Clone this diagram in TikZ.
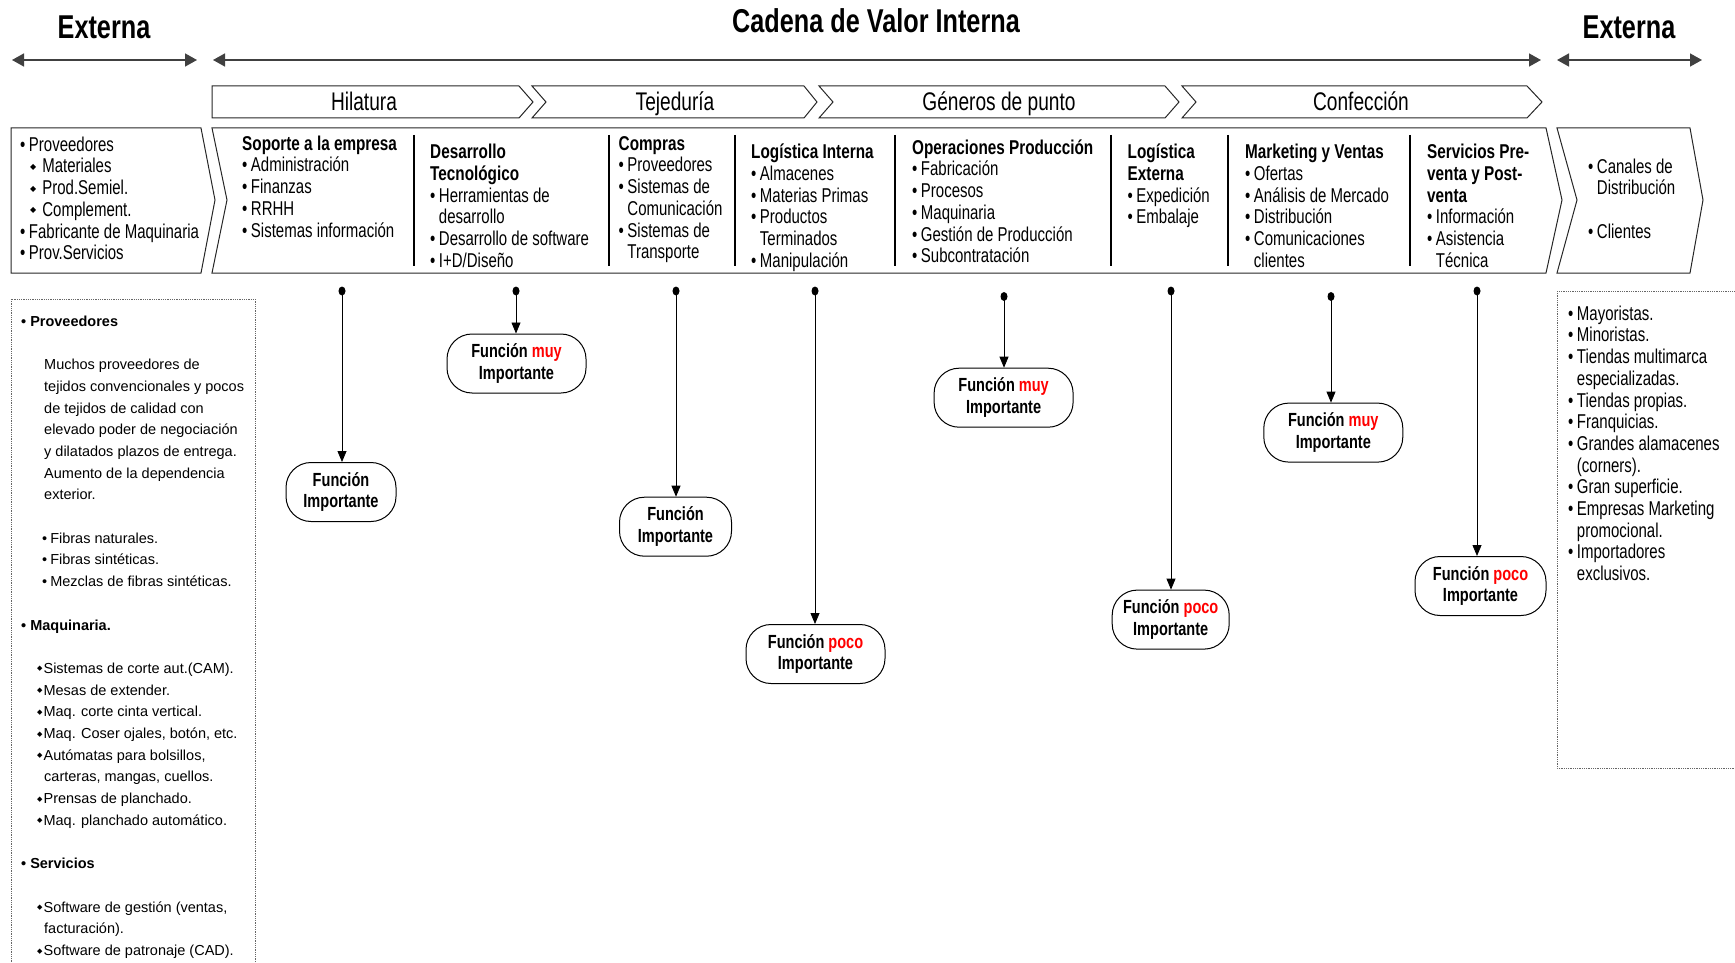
\documentclass[tikz,border=0pt]{standalone}
\usepackage{fontspec}
\setmainfont{Liberation Sans}
\newfontfamily\cond[FakeStretch=0.75]{Liberation Sans}
\newfontfamily\condb[FakeStretch=0.765]{Liberation Sans}
\newfontfamily\dejavu{DejaVu Sans}
\usetikzlibrary{arrows.meta,shapes.geometric}
\newcommand\bodyf{\cond\fontsize{20}{21.7}\selectfont\lineskiplimit=-50pt\relax}
\newcommand\titlef{\condb\bfseries\fontsize{33}{36}\selectfont}
\newcommand\chevf{\cond\fontsize{25.5}{28}\selectfont}
\newcommand\nodef{\condb\bfseries\fontsize{19}{21.7}\selectfont\lineskiplimit=-50pt\relax}
\newcommand\leftf{\fontsize{14.5}{21.7}\selectfont\lineskiplimit=-50pt\relax}
\newcommand\hd[1]{{\condb\bfseries #1}}
\newcommand\bl{\textbullet\hspace{3.5pt}}
\newcommand\ind{\hphantom{\bl}}
\newcommand\diam{\raisebox{3.5pt}{\dejavu\fontsize{8}{8}\selectfont ◆}}
\newcommand\diams{\raisebox{2.5pt}{\dejavu\fontsize{7}{7}\selectfont ◆}}
\newcommand\st{\rule{0pt}{16pt}}
\newcommand\sts{\rule{0pt}{12pt}}
\begin{document}
\begin{tikzpicture}[x=1pt,y=-1pt,
  outl/.style={draw=black!85,line width=1pt},
  topar/.style={draw=black!75,line width=1.6pt,{Triangle[length=12pt,width=13pt]}-{Triangle[length=12pt,width=13pt]}},
  funar/.style={draw=black,line width=0.8pt,-{Triangle[length=11pt,width=9pt]}},
  divline/.style={draw=black,line width=1.6pt},
  dotbox/.style={draw=black!60,densely dotted,line width=0.8pt},
  col/.style={anchor=north west,inner sep=0pt,align=left,font=\bodyf},
  titl/.style={anchor=base,inner sep=0pt,font=\titlef},
  chevlbl/.style={anchor=base,inner sep=0pt,font=\chevf},
  fun/.style={draw=black,line width=1pt,rounded corners=25pt,align=center,font=\nodef,inner sep=0pt,minimum height=59pt,fill=white},
  dotn/.style={ellipse,fill=black,inner sep=0pt,minimum width=7pt,minimum height=9pt}
]
\useasboundingbox (0,0) rectangle (1735,963);

% titles
\node[titl] (ext1) at (104,39) {Externa};
\node[titl] (cad) at (876,33) {Cadena de Valor Interna};
\node[titl] (ext2) at (1629,39) {Externa};

% top arrows
\coordinate (a1) at (12,60); \coordinate (a2) at (197,60);
\coordinate (b1) at (213,60); \coordinate (b2) at (1541,60);
\coordinate (c1) at (1557,60); \coordinate (c2) at (1702,60);
\draw[topar] (a1) -- (a2);
\draw[topar] (b1) -- (b2);
\draw[topar] (c1) -- (c2);

% chevrons
\draw[outl] (212,86) -- (519,86) -- (533,102) -- (519,118) -- (212,118) -- cycle;
\draw[outl] (532,86) -- (804,86) -- (817,102) -- (804,118) -- (532,118) -- (546,102) -- cycle;
\draw[outl] (819,86) -- (1165,86) -- (1179,102) -- (1165,118) -- (819,118) -- (833,102) -- cycle;
\draw[outl] (1182,86) -- (1527,86) -- (1542,102) -- (1527,118) -- (1182,118) -- (1196,102) -- cycle;
\node[chevlbl] (hil) at (364,110.5) {Hilatura};
\node[chevlbl] (tej) at (675,110.5) {Tejeduría};
\node[chevlbl] (gen) at (999,110.5) {Géneros de punto};
\node[chevlbl] (con) at (1361,110.5) {Confección};

% value chain boxes
\draw[outl] (11,128) -- (201,128) -- (215,200) -- (201,273) -- (11,273) -- cycle;
\draw[outl] (212,128) -- (1546,128) -- (1562,200) -- (1546,273) -- (212,273) -- (227,200) -- cycle;
\draw[outl] (1557,128) -- (1690,128) -- (1703,200) -- (1690,273) -- (1557,273) -- (1577,200) -- cycle;

% dividers
\foreach \xx in {414,609,735,895,1111,1228,1410}
  \draw[divline] (\xx,135) -- (\xx,266);

% external left
\node[col] (extl) at (20,135) {\st\bl Proveedores\\
\hspace*{10pt}\diam\hspace{6pt}Materiales\\
\hspace*{10pt}\diam\hspace{6pt}Prod.Semiel.\\
\hspace*{10pt}\diam\hspace{6pt}Complement.\\
\bl Fabricante de Maquinaria\\
\bl Prov.Servicios};

% columns
\node[col] (c1) at (242,134) {\st\hd{Soporte a la empresa}\\
\bl Administración\\ \bl Finanzas\\ \bl RRHH\\ \bl Sistemas información};
\node[col] (c2) at (430,142.5) {\st\hd{Desarrollo}\\ \hd{Tecnológico}\\
\bl Herramientas de\\ \ind desarrollo\\ \bl Desarrollo de software\\ \bl I+D/Diseño};
\node[col] (c3) at (618.5,134) {\st\hd{Compras}\\ \bl Proveedores\\ \bl Sistemas de\\
\ind Comunicación\\ \bl Sistemas de\\ \ind Transporte};
\node[col] (c4) at (751,142.5) {\st\hd{Logística Interna}\\ \bl Almacenes\\ \bl Materias Primas\\
\bl Productos\\ \ind Terminados\\ \bl Manipulación};
\node[col] (c5) at (912,138) {\st\hd{Operaciones Producción}\\ \bl Fabricación\\ \bl Procesos\\
\bl Maquinaria\\ \bl Gestión de Producción\\ \bl Subcontratación};
\node[col] (c6) at (1127.5,142.5) {\st\hd{Logística}\\ \hd{Externa}\\ \bl Expedición\\ \bl Embalaje};
\node[col] (c7) at (1245,142.5) {\st\hd{Marketing y Ventas}\\ \bl Ofertas\\ \bl Análisis de Mercado\\
\bl Distribución\\ \bl Comunicaciones\\ \ind clientes};
\node[col] (c8) at (1427,142.5) {\st\hd{Servicios Pre-}\\ \hd{venta y Post-}\\ \hd{venta}\\
\bl Información\\ \bl Asistencia\\ \ind Técnica};

% external right
\node[col] (extr) at (1588,157) {\st\bl Canales de\\ \ind Distribución\\ \mbox{}\\ \bl Clientes};

% dotted detail boxes
\draw[dotbox] (11,299) rectangle (255,990);
\draw[dotbox] (1557,291) rectangle (1760,768);

\node[anchor=north west,inner sep=0pt,align=left,font=\leftf] (detl) at (21,314) {\sts\textbf{\textbullet\hspace{4pt}Proveedores}\\
\mbox{}\\
\hspace*{23pt}Muchos proveedores de\\
\hspace*{23pt}tejidos convencionales y pocos\\
\hspace*{23pt}de tejidos de calidad con\\
\hspace*{23pt}elevado poder de negociación\\
\hspace*{23pt}y dilatados plazos de entrega.\\
\hspace*{23pt}Aumento de la dependencia\\
\hspace*{23pt}exterior.\\
\mbox{}\\
\hspace*{21pt}\textbullet\hspace{3pt}Fibras naturales.\\
\hspace*{21pt}\textbullet\hspace{3pt}Fibras sintéticas.\\
\hspace*{21pt}\textbullet\hspace{3pt}Mezclas de fibras sintéticas.\\
\mbox{}\\
\textbf{\textbullet\hspace{4pt}Maquinaria.}\\
\mbox{}\\
\hspace*{16pt}\diams\hspace{1pt}Sistemas de corte aut.(CAM).\\
\hspace*{16pt}\diams\hspace{1pt}Mesas de extender.\\
\hspace*{16pt}\diams\hspace{1pt}Maq. corte cinta vertical.\\
\hspace*{16pt}\diams\hspace{1pt}Maq. Coser ojales, botón, etc.\\
\hspace*{16pt}\diams\hspace{1pt}Autómatas para bolsillos,\\
\hspace*{23pt}carteras, mangas, cuellos.\\
\hspace*{16pt}\diams\hspace{1pt}Prensas de planchado.\\
\hspace*{16pt}\diams\hspace{1pt}Maq. planchado automático.\\
\mbox{}\\
\textbf{\textbullet\hspace{4pt}Servicios}\\
\mbox{}\\
\hspace*{16pt}\diams\hspace{1pt}Software de gestión (ventas,\\
\hspace*{23pt}facturación).\\
\hspace*{16pt}\diams\hspace{1pt}Software de patronaje (CAD).};

\node[col] (detr) at (1568,304) {\st\bl Mayoristas.\\ \bl Minoristas.\\ \bl Tiendas multimarca\\
\ind especializadas.\\ \bl Tiendas propias.\\ \bl Franquicias.\\ \bl Grandes alamacenes\\
\ind (corners).\\ \bl Gran superficie.\\ \bl Empresas Marketing\\ \ind promocional.\\
\bl Importadores\\ \ind exclusivos.};

% function nodes
\node[fun,minimum width=110pt] (n1) at (341,492) {Función\\Importante};
\node[fun,minimum width=139pt] (n2) at (516.5,363.5) {Función \textcolor{red}{muy}\\Importante};
\node[fun,minimum width=112pt] (n3) at (675.5,526.7) {Función\\Importante};
\node[fun,minimum width=139pt] (n4) at (815.5,654) {Función \textcolor{red}{poco}\\Importante};
\node[fun,minimum width=139pt] (n5) at (1003.6,397.7) {Función \textcolor{red}{muy}\\Importante};
\node[fun,minimum width=117pt] (n6) at (1170.7,619.6) {Función \textcolor{red}{poco}\\Importante};
\node[fun,minimum width=139pt] (n7) at (1333.3,432.6) {Función \textcolor{red}{muy}\\Importante};
\node[fun,minimum width=131pt] (n8) at (1480.5,586) {Función \textcolor{red}{poco}\\Importante};

% dots
\node[dotn] (d1) at (342,291) {};
\node[dotn] (d2) at (516,291) {};
\node[dotn] (d3) at (676,291) {};
\node[dotn] (d4) at (815,291) {};
\node[dotn] (d5) at (1004,296.5) {};
\node[dotn] (d6) at (1171,291) {};
\node[dotn] (d7) at (1331,296.5) {};
\node[dotn] (d8) at (1477,291) {};

\foreach \i in {1,...,8}
  \draw[funar] (d\i.center) -- (d\i |- n\i.north);
\end{tikzpicture}
\end{document}
